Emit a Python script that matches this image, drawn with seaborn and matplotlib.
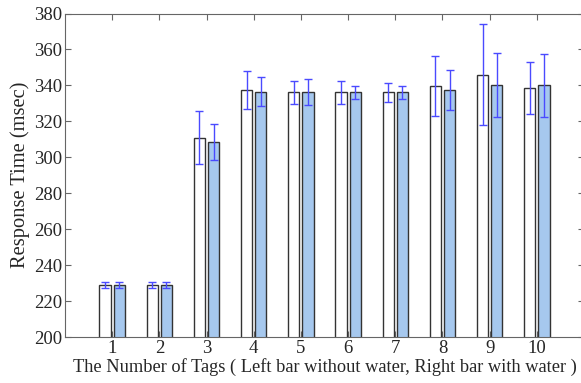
import numpy as np
import pandas as pd
import matplotlib
matplotlib.use("Agg")
import matplotlib.pyplot as plt
import seaborn as sns

# tag counts and measured response times (msec)
tags = ["1", "2", "3", "4", "5", "6", "7", "8", "9", "10"]
no_water = [229, 229, 311, 337.4, 336.2, 336.2, 336.2, 339.5, 346, 338.6]
no_water_err = [1.5, 1.5, 14.5, 10.5, 6.4, 6.4, 5.2, 16.8, 28.2, 14.5]
with_water = [229, 229, 308.7, 336.5, 336.5, 336.2, 336.2, 337.5, 340.1, 340.1]
with_water_err = [1.5, 1.5, 10, 8.2, 7.2, 3.7, 3.5, 11, 17.8, 17.6]
conditions = ["without water", "with water"]

df = pd.DataFrame({
    "tags": tags * 2,
    "time": no_water + with_water,
    "cond": [conditions[0]] * len(tags) + [conditions[1]] * len(tags),
})

sns.set_style("ticks")
plt.rcParams["font.family"] = ["Liberation Serif", "DejaVu Serif"]

fig = plt.figure(figsize=(5.81, 3.83), dpi=100)
ax = fig.add_axes([65 / 581, 46 / 383, 519 / 581, 323.5 / 383])

sns.barplot(data=df, x="tags", y="time", hue="cond", order=tags,
            hue_order=conditions, palette=["white", "#a6c8ee"], saturation=1,
            width=0.6, gap=0.2, edgecolor="#333333", linewidth=1.0,
            errorbar=None, legend=False, ax=ax)

# error bars on each bar
for cont, errs in zip(ax.containers, [no_water_err, with_water_err]):
    xs = [b.get_x() + b.get_width() / 2 for b in cont]
    ys = [b.get_height() for b in cont]
    ax.errorbar(xs, ys, yerr=errs, fmt="none", ecolor="#4a4aff",
                elinewidth=1.0, capsize=3, capthick=1.0, zorder=5)

ax.set_ylim(200, 380)
ax.set_xlim(-1, 10)
ax.set_yticks(np.arange(200, 381, 20))
ax.set_xlabel("The Number of Tags ( Left bar without water, Right bar with water )",
              fontsize=13.2, labelpad=1)
ax.set_ylabel("Response Time (msec)", fontsize=14.8, labelpad=3)

for s in ax.spines.values():
    s.set_visible(True)
    s.set_color("#666666")
ax.tick_params(direction="in", top=True, right=True, length=4,
               color="#666666", labelsize=13.5, pad=2)

fig.savefig("out.png", dpi=100)
